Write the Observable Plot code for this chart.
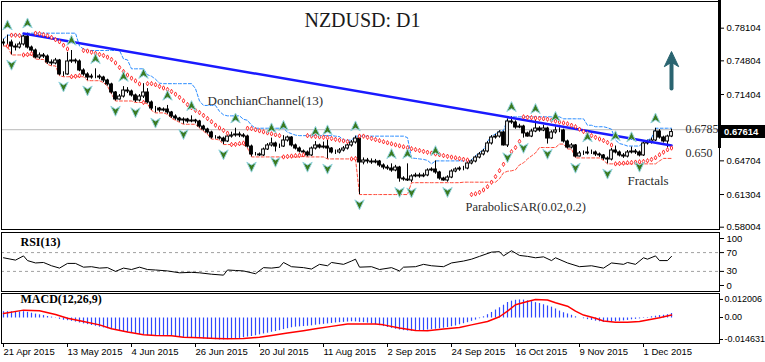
<!DOCTYPE html>
<html>
<head>
<meta charset="utf-8">
<script src="https://cdn.jsdelivr.net/npm/d3@7"></script>
<script src="https://cdn.jsdelivr.net/npm/@observablehq/plot@0.6"></script>
<style>
html,body{margin:0;padding:0;background:#fff;}
#chart{position:relative;width:765px;height:362px;overflow:hidden;background:#fff;}
#chart svg{position:absolute;left:0;overflow:visible;}
</style>
</head>
<body>
<div id="chart"></div>
<script>
// ---------- data ----------
const firstOpen = 0.7656;
const closes = [
.7666,.7666,.7625,.7615,.7646,.7726,.7615,.7585,.7514,.7535,
.7524,.7464,.7454,.7484,.7343,.7343,.7474,.7484,.7474,.7383,
.7343,.7312,.7322,.7322,.7312,.7282,.7242,.7161,.7090,.7120,
.7181,.7171,.7131,.7080,.7120,.7161,.7060,.6999,.6999,.6979,
.6989,.6959,.6918,.6898,.6878,.6888,.6868,.6878,.6868,.6817,
.6787,.6757,.6706,.6706,.6696,.6666,.6716,.6727,.6737,.6727,
.6716,.6615,.6535,.6535,.6525,.6585,.6626,.6646,.6615,.6615,
.6676,.6706,.6626,.6595,.6565,.6555,.6525,.6595,.6626,.6605,
.6615,.6595,.6555,.6555,.6575,.6595,.6626,.6656,.6696,.6454,
.6474,.6464,.6454,.6464,.6424,.6403,.6393,.6373,.6403,.6292,
.6282,.6272,.6313,.6323,.6313,.6323,.6373,.6383,.6353,.6292,
.6272,.6302,.6363,.6383,.6393,.6393,.6444,.6464,.6504,.6535,
.6565,.6646,.6706,.6716,.6757,.6626,.6868,.6858,.6807,.6817,
.6747,.6716,.6767,.6797,.6777,.6797,.6696,.6757,.6777,.6777,
.6666,.6605,.6626,.6514,.6545,.6545,.6555,.6555,.6535,.6525,
.6494,.6484,.6575,.6555,.6525,.6514,.6555,.6565,.6555,.6525,
.6646,.6656,.6676,.6767,.6706,.6666,.6716,.6761];
const highs = [
.7700,.7740,.7690,.7650,.7670,.7740,.7760,.7630,.7600,.7560,
.7555,.7540,.7490,.7505,.7495,.7370,.7565,.7585,.7500,.7490,
.7400,.7360,.7345,.7400,.7340,.7325,.7295,.7255,.7170,.7140,
.7220,.7210,.7185,.7145,.7140,.7250,.7200,.7075,.7020,.7010,
.7005,.7030,.6970,.6935,.6910,.6905,.6900,.6925,.6890,.6880,
.6830,.6800,.6770,.6725,.6720,.6710,.6735,.6760,.6800,.6760,
.6745,.6730,.6630,.6555,.6550,.6600,.6645,.6700,.6660,.6640,
.6725,.6720,.6715,.6640,.6610,.6580,.6570,.6610,.6665,.6640,
.6660,.6680,.6605,.6580,.6595,.6615,.6640,.6675,.6720,.6705,
.6500,.6495,.6490,.6485,.6475,.6440,.6425,.6440,.6425,.6415,
.6310,.6440,.6330,.6345,.6345,.6345,.6390,.6400,.6470,.6365,
.6305,.6320,.6380,.6400,.6410,.6415,.6460,.6480,.6520,.6555,
.6585,.6665,.6725,.6740,.6775,.6770,.6895,.6915,.6875,.6840,
.6830,.6760,.6790,.6895,.6815,.6830,.6810,.6775,.6815,.6805,
.6790,.6680,.6645,.6635,.6565,.6570,.6610,.6580,.6570,.6550,
.6535,.6510,.6595,.6620,.6570,.6545,.6575,.6610,.6585,.6570,
.6665,.6680,.6700,.6800,.6785,.6720,.6730,.6790];
const lows = [
.7630,.7640,.7540,.7580,.7600,.7630,.7600,.7560,.7500,.7495,
.7505,.7445,.7430,.7440,.7330,.7320,.7335,.7455,.7450,.7370,
.7325,.7280,.7295,.7300,.7290,.7260,.7225,.7145,.7075,.7085,
.7105,.7150,.7115,.7060,.7065,.7100,.7045,.6980,.6955,.6960,
.6965,.6940,.6900,.6880,.6860,.6840,.6850,.6855,.6845,.6800,
.6770,.6740,.6690,.6690,.6680,.6635,.6655,.6700,.6710,.6705,
.6700,.6600,.6510,.6520,.6515,.6515,.6575,.6610,.6560,.6595,
.6605,.6660,.6610,.6580,.6550,.6540,.6510,.6515,.6580,.6590,
.6590,.6490,.6540,.6535,.6540,.6560,.6580,.6610,.6640,.6130,
.6430,.6440,.6435,.6440,.6405,.6380,.6375,.6355,.6360,.6255,
.6265,.6262,.6250,.6300,.6295,.6300,.6310,.6360,.6335,.6275,
.6265,.6255,.6290,.6350,.6365,.6370,.6380,.6430,.6450,.6490,
.6520,.6550,.6630,.6690,.6700,.6620,.6605,.6840,.6790,.6795,
.6700,.6710,.6705,.6755,.6760,.6765,.6640,.6685,.6740,.6755,
.6650,.6590,.6590,.6500,.6510,.6525,.6530,.6535,.6515,.6505,
.6475,.6440,.6470,.6540,.6510,.6495,.6500,.6540,.6535,.6510,
.6515,.6630,.6640,.6665,.6690,.6650,.6600,.6705];

const fracUp = [1,6,17,23,30,35,41,47,58,67,70,78,81,88,97,101,108,127,133,138,146,153,157,163];
const fracDown = [2,15,21,28,33,38,45,55,62,68,76,81,89,99,102,111,126,130,136,143,151,159];

const trendIdx = [5, 167];
const trendPrice = [0.7757, 0.6626];
const resistance = [0.6785];

const priceTicks = [0.78104, 0.74804, 0.71404, 0.68004, 0.64704, 0.61304, 0.58004];
const dateLabels = ["21 Apr 2015","13 May 2015","4 Jun 2015","26 Jun 2015","20 Jul 2015","11 Aug 2015","2 Sep 2015","24 Sep 2015","16 Oct 2015","9 Nov 2015","1 Dec 2015"];
const dateTickIdx = [0,16,32,48,64,80,96,112,128,144,160];

const rsiIdx = [0,3,5,6,8,10,12,14,16,18,20,22,24,26,28,30,32,34,36,38,41,44,47,49,52,55,56,58,60,63,65,67,69,70,72,75,77,79,81,82,85,87,88,89,92,94,97,99,100,103,105,107,110,112,115,117,119,122,124,125,127,129,131,133,135,137,138,141,144,147,150,152,155,156,158,160,161,163,164,166,167];
const rsiVal = [59,54,63,53,48,49,42,37,47,47,39,40,37,38,30,37,34,39,34,33,31,27,28,27,24,22,33,32,31,25,38,37,39,49,40,38,35,45,42,49,45,52,56,39,40,34,38,31,39,40,45,42,40,48,52,56,62,71,72,63,74,64,62,59,61,53,59,48,40,42,37,48,45,49,45,59,56,63,53,53,62];
const rsiTicks = [100, 70, 30, 0];
const rsiLevels = [70, 30];

const macdHist = [
.0042,.0042,.0041,.0041,.0040,.0042,.0038,.0032,.0026,.0021,
.0016,.0010,.0006,.0002,-.0009,-.0015,-.0018,-.0022,-.0027,-.0033,
-.0039,-.0044,-.0050,-.0055,-.0061,-.0066,-.0071,-.0077,-.0083,-.0088,
-.0092,-.0097,-.0102,-.0107,-.0111,-.0114,-.0118,-.0119,-.0119,-.0118,
-.0119,-.0120,-.0122,-.0124,-.0126,-.0129,-.0131,-.0133,-.0135,-.0137,
-.0139,-.0141,-.0143,-.0144,-.0146,-.0146,-.0144,-.0142,-.0140,-.0136,
-.0131,-.0127,-.0123,-.0118,-.0112,-.0106,-.0101,-.0095,-.0090,-.0084,
-.0077,-.0071,-.0065,-.0061,-.0059,-.0057,-.0055,-.0052,-.0048,-.0045,
-.0042,-.0039,-.0036,-.0033,-.0031,-.0029,-.0027,-.0025,-.0026,-.0029,
-.0031,-.0034,-.0039,-.0045,-.0051,-.0057,-.0063,-.0069,-.0075,-.0080,
-.0084,-.0087,-.0088,-.0087,-.0085,-.0083,-.0080,-.0077,-.0075,-.0072,
-.0068,-.0063,-.0058,-.0053,-.0045,-.0038,-.0031,-.0022,-.0014,-.0005,
.0008,.0022,.0037,.0053,.0068,.0085,.0103,.0112,.0118,.0120,
.0119,.0114,.0109,.0102,.0096,.0088,.0080,.0072,.0060,.0046,
.0035,.0027,.0018,.0008,.0000,-.0005,-.0011,-.0016,-.0021,-.0025,
-.0029,-.0030,-.0028,-.0025,-.0022,-.0019,-.0016,-.0012,-.0009,-.0006,
-.0003,.0003,.0008,.0012,.0016,.0018,.0022,.0030];
const sigIdx = [0,5,9,13,16,20,24,27,31,35,38,42,45,49,53,56,60,64,67,71,75,78,82,86,89,93,95,99,103,106,110,114,117,121,124,126,128,131,133,136,138,141,143,145,148,150,153,156,159,161,164,167];
const sigVal = [.0027,.0049,.0045,.0020,-.0005,-.0027,-.0049,-.0075,-.0096,-.0114,-.0120,-.0121,-.0131,-.0135,-.0139,-.0142,-.0140,-.0131,-.0120,-.0103,-.0088,-.0075,-.0059,-.0044,-.0043,-.0044,-.0049,-.0070,-.0086,-.0088,-.0077,-.0066,-.0049,-.0027,.0005,.0042,.0085,.0107,.0120,.0116,.0098,.0075,.0042,.0016,-.0005,-.0023,-.0031,-.0031,-.0027,-.0016,-.0001,.0016];
const macdTicks = [0.012006, 0, -0.014631];
const macdTickLabels = ["0.012006", "0.00", "-0.014631"];

// annotations (anchored in bar index / price)
const noteText = ["DonchianChannel(13)", "ParabolicSAR(0.02,0.2)", "Fractals", "0.6785", "0.650"];
const noteIdx = [51, 115.5, 156, 170.5, 170.5];
const notePrice = [0.7080, 0.6009, 0.6272, 0.6787, 0.6545];
const noteSize = [13, 12.5, 13, 12, 12];
const titleText = "NZDUSD: D1";
const titleIdx = 89.75, titlePrice = 0.7888;
const arrowIdx = [167, 167];
const arrowPrice = [0.7201, 0.7494];

// ---------- derived ----------
const bars = closes.map((c, i) => {
  const o = i === 0 ? firstOpen : closes[i - 1];
  return {i, open: o, close: c, high: Math.max(highs[i], o, c), low: Math.min(lows[i], o, c), up: c >= o};
});
const don = bars.map((b, i) => {
  const w = bars.slice(Math.max(0, i - 12), i + 1);
  return {i, hi: d3.max(w, d => d.high), lo: d3.min(w, d => d.low)};
});
function parabolicSAR(b, step, maxStep) {
  const out = [];
  let up = true, af = step, ep = b[0].high, sar = b[0].low;
  for (let i = 1; i < b.length; i++) {
    sar = sar + af * (ep - sar);
    const p1 = b[i - 1], p2 = i > 1 ? b[i - 2] : b[i - 1];
    if (up) {
      sar = Math.min(sar, p1.low, p2.low);
      if (b[i].low < sar) { up = false; sar = ep; ep = b[i].low; af = step; }
      else if (b[i].high > ep) { ep = b[i].high; af = Math.min(af + step, maxStep); }
    } else {
      sar = Math.max(sar, p1.high, p2.high);
      if (b[i].high > sar) { up = true; sar = ep; ep = b[i].high; af = step; }
      else if (b[i].low < ep) { ep = b[i].low; af = Math.min(af + step, maxStep); }
    }
    out.push({i, v: sar});
  }
  return out;
}
const sar = parabolicSAR(bars, 0.02, 0.2);
const upPts = fracUp.map(i => bars[i]);
const downPts = fracDown.map(i => bars[i]);
const trend = trendIdx.map((i, k) => ({i, p: trendPrice[k]}));
const notes = noteText.map((t, k) => ({t, i: noteIdx[k], p: notePrice[k], s: noteSize[k]}));
const arrowPts = arrowIdx.map((i, k) => ({i, p: arrowPrice[k]}));
const rsiPts = rsiIdx.map((i, k) => ({i, v: rsiVal[k]}));
const histPts = macdHist.map((v, i) => ({i, v, z: 0}));
const sigPts = sigIdx.map((i, k) => ({i, v: sigVal[k]}));

const arrowSym = {draw(ctx, size) {
  const r = Math.sqrt(size / Math.PI);
  ctx.moveTo(0, -r); ctx.lineTo(r * 0.9, r * 0.9); ctx.lineTo(0, r * 0.35); ctx.lineTo(-r * 0.9, r * 0.9); ctx.closePath();
}};

const W = 765;
const xDomain = [-0.5, 179];
const sans = "'Liberation Sans', Arial, sans-serif";
const serif = "'Liberation Serif', 'Times New Roman', serif";
const baseStyle = {fontFamily: sans, fontSize: "9.5px", color: "#000", background: "transparent"};
const root = document.getElementById("chart");

// ---------- main price panel ----------
const main = Plot.plot({
  width: W, height: 231, marginLeft: 1, marginRight: 46, marginTop: 1, marginBottom: 2,
  style: baseStyle,
  x: {domain: xDomain, axis: null, label: null},
  y: {domain: [0.57771, 0.80799], label: null},
  marks: [
    Plot.ruleY(resistance, {stroke: "#b8b8b8", strokeWidth: 1}),
    Plot.line(don, {x: "i", y: "hi", stroke: "#2a8cff", strokeWidth: 1, strokeDasharray: "3,2"}),
    Plot.line(don, {x: "i", y: "lo", stroke: "#ff4a3a", strokeWidth: 1, strokeDasharray: "3,2"}),
    Plot.ruleX(bars, {x: "i", y1: "low", y2: "high", stroke: "#000", strokeWidth: 1}),
    Plot.rect(bars, {x1: d => d.i - 0.35, x2: d => d.i + 0.35, y1: "open", y2: "close",
      fill: d => d.up ? "#ffffff" : "#000000", stroke: "#000", strokeWidth: 1}),
    Plot.line(trend, {x: "i", y: "p", stroke: "#1a1aff", strokeWidth: 2.5}),
    Plot.dot(sar, {x: "i", y: "v", symbol: "diamond", r: 1.35, fill: "#ffffff", stroke: "#ff1a1a", strokeWidth: 0.9}),
    Plot.dot(upPts, {x: "i", y: "high", symbol: arrowSym, r: 5.2, dy: -10, fill: "#3a7a20", stroke: "#93d4e0", strokeWidth: 1}),
    Plot.dot(downPts, {x: "i", y: "low", symbol: arrowSym, r: 5.2, dy: 10, rotate: 180, fill: "#3a7a20", stroke: "#93d4e0", strokeWidth: 1}),
    Plot.line(arrowPts, {x: "i", y: "p", stroke: "#2a6470", strokeWidth: 4}),
    Plot.dot(arrowPts.slice(1), {x: "i", y: "p", symbol: arrowSym, r: 8, fill: "#2a6470", stroke: "#2a6470", strokeWidth: 1}),
    Plot.text([titleText], {x: () => titleIdx, y: () => titlePrice, text: d => d, fontFamily: serif, fontSize: 20, fill: "#1a1a1a"}),
    Plot.text(notes, {x: "i", y: "p", text: "t", fontSize: "s", textAnchor: "start", fontFamily: serif, fill: "#2b2b2b"}),
    Plot.axisY(priceTicks, {anchor: "right", tickSize: 4, tickPadding: 3, tickFormat: d => d.toFixed(5), label: null}),
    Plot.frame({stroke: "#000"})
  ]
});
main.style.top = "0px";
root.appendChild(main);

// ---------- RSI panel ----------
const rsi = Plot.plot({
  width: W, height: 61, marginLeft: 1, marginRight: 46, marginTop: 1, marginBottom: 1,
  style: baseStyle,
  x: {domain: xDomain, axis: null, label: null},
  y: {domain: [-12.8, 112.8], label: null},
  marks: [
    Plot.ruleY(rsiLevels, {stroke: "#a0a0a0", strokeDasharray: "3,3"}),
    Plot.line(rsiPts, {x: "i", y: "v", stroke: "#000", strokeWidth: 1}),
    Plot.axisY(rsiTicks, {anchor: "right", tickSize: 4, tickPadding: 3, label: null}),
    Plot.frame({stroke: "#000"}),
    Plot.text(["RSI(13)"], {frameAnchor: "top-left", dx: 19, dy: 5, text: d => d, fontFamily: serif, fontWeight: "bold", fontSize: 12})
  ]
});
rsi.style.top = "231px";
root.appendChild(rsi);

// ---------- MACD panel ----------
const macd = Plot.plot({
  width: W, height: 70, marginLeft: 1, marginRight: 46, marginTop: 1, marginBottom: 19,
  style: baseStyle,
  x: {domain: xDomain, label: null},
  y: {domain: [-0.01729, 0.01596], label: null},
  marks: [
    Plot.link(histPts, {x1: "i", x2: "i", y1: "z", y2: "v", stroke: "#3048ff", strokeWidth: 1.2}),
    Plot.line(sigPts, {x: "i", y: "v", stroke: "#ff0000", strokeWidth: 1.5}),
    Plot.axisY(macdTicks, {anchor: "right", tickSize: 3, tickPadding: 2, fontSize: 9, label: null,
      tickFormat: d => macdTickLabels[macdTicks.indexOf(d)]}),
    Plot.axisX(dateTickIdx, {anchor: "bottom", tickSize: 4, tickPadding: 1, textAnchor: "start", label: null,
      tickFormat: d => dateLabels[dateTickIdx.indexOf(d)]}),
    Plot.frame({stroke: "#000"}),
    Plot.text(["MACD(12,26,9)"], {frameAnchor: "top-left", dx: 19, dy: 1, text: d => d, fontFamily: serif, fontWeight: "bold", fontSize: 12})
  ]
});
macd.style.top = "292px";
root.appendChild(macd);

// ---------- overlays: thick axis segment and current price box ----------
const thick = document.createElement("div");
Object.assign(thick.style, {position: "absolute", left: "718px", top: "0px", width: "3px", height: "148px", background: "#000"});
root.appendChild(thick);

const lastClose = closes[closes.length - 1];
const yLast = main.scale("y").apply(lastClose);
const box = document.createElement("div");
box.textContent = lastClose.toFixed(4) + "4";
Object.assign(box.style, {position: "absolute", left: "721px", top: (yLast - 7) + "px", width: "44px", height: "13px",
  background: "#000", color: "#fff", font: "bold 9.5px 'Liberation Sans', Arial, sans-serif", lineHeight: "13px", paddingLeft: "3px", boxSizing: "border-box"});
root.appendChild(box);
</script>
</body>
</html>
